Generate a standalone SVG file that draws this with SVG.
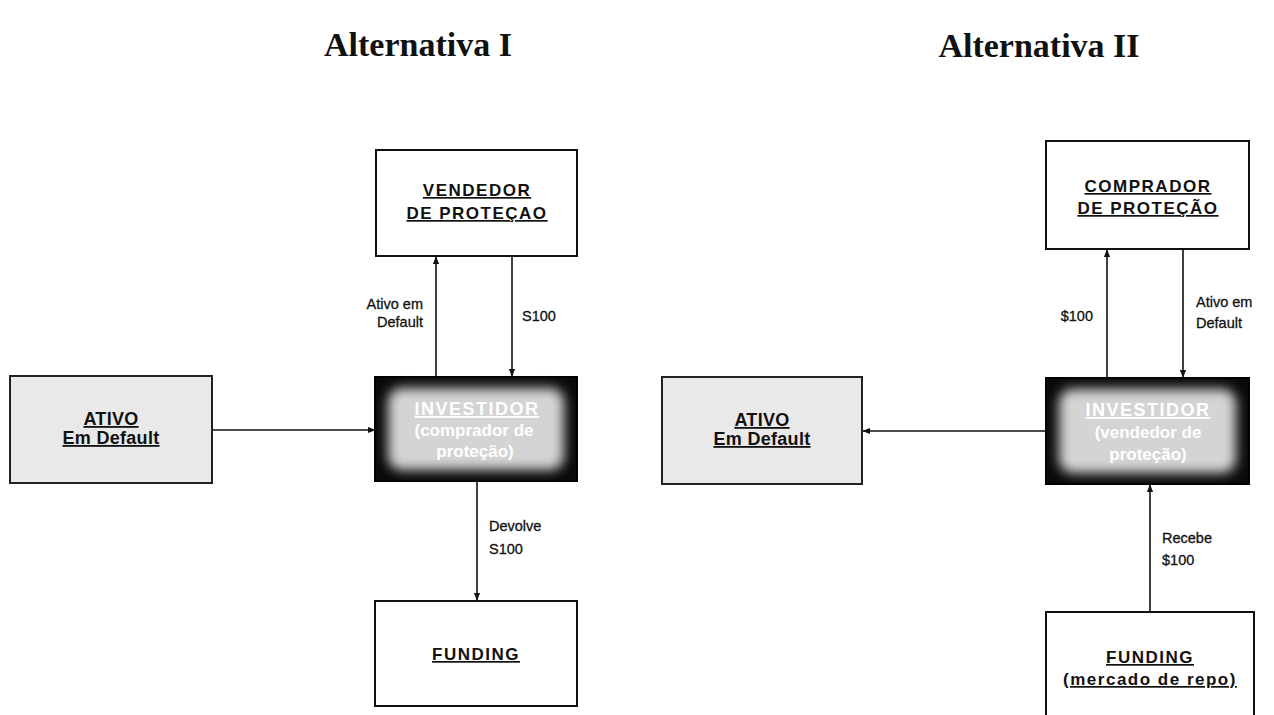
<svg xmlns="http://www.w3.org/2000/svg" width="1274" height="715" viewBox="0 0 1274 715">
<style>
.title{font-family:"Liberation Serif",serif;font-weight:bold;font-size:34px;fill:#111;text-anchor:middle}
.box{fill:#fff;stroke:#111;stroke-width:2}
.gbox{fill:#e9e9e9;stroke:#222;stroke-width:2}
.blk{fill:#0a0a0a;stroke:#000;stroke-width:2}
.lbl{font-family:"Liberation Sans",Arial,sans-serif;font-weight:bold;font-size:17px;letter-spacing:1.5px;fill:#111;text-anchor:middle;text-decoration:underline}
.lbs{font-family:"Liberation Sans",Arial,sans-serif;font-weight:bold;font-size:18px;letter-spacing:0.3px;fill:#111;text-anchor:middle;text-decoration:underline}
.inv{font-family:"Liberation Sans",Arial,sans-serif;font-weight:bold;font-size:17px;fill:#fff;text-anchor:middle}
.invh{font-size:18px;letter-spacing:1.5px;text-decoration:underline}
.edge{font-family:"Liberation Sans",Arial,sans-serif;font-size:14.5px;fill:#111;stroke:#111;stroke-width:0.3}
.ln{stroke:#111;stroke-width:1.6;fill:none}
</style>
<defs>
<filter id="glow" x="-20%" y="-30%" width="140%" height="160%"><feGaussianBlur stdDeviation="6"/></filter>
<marker id="ah" viewBox="0 0 10 10" refX="9" refY="5" markerWidth="5" markerHeight="5" orient="auto"><path d="M0,1 L10,5 L0,9 z" fill="#111"/></marker>
</defs>
<text class="title" x="418" y="56">Alternativa I</text>
<text class="title" x="1039" y="57">Alternativa II</text>

<g id="connectors">
<line class="ln" x1="212" y1="430" x2="375" y2="430" marker-end="url(#ah)"/>
<line class="ln" x1="436" y1="377" x2="436" y2="257" marker-end="url(#ah)"/>
<line class="ln" x1="512" y1="256" x2="512" y2="376" marker-end="url(#ah)"/>
<line class="ln" x1="477" y1="481" x2="477" y2="600" marker-end="url(#ah)"/>
<text class="edge" x="423" y="309" text-anchor="end">Ativo em</text>
<text class="edge" x="423" y="327" text-anchor="end">Default</text>
<text class="edge" x="522" y="321">S100</text>
<text class="edge" x="489" y="531">Devolve</text>
<text class="edge" x="489" y="554">S100</text>

<line class="ln" x1="1046" y1="431" x2="863" y2="431" marker-end="url(#ah)"/>
<line class="ln" x1="1107" y1="378" x2="1107" y2="250" marker-end="url(#ah)"/>
<line class="ln" x1="1183" y1="249" x2="1183" y2="377" marker-end="url(#ah)"/>
<line class="ln" x1="1150" y1="612" x2="1150" y2="485" marker-end="url(#ah)"/>
<text class="edge" x="1093" y="321" text-anchor="end">$100</text>
<text class="edge" x="1196" y="307">Ativo em</text>
<text class="edge" x="1196" y="328">Default</text>
<text class="edge" x="1162" y="543">Recebe</text>
<text class="edge" x="1162" y="565">$100</text>
</g>

<g id="ativo1">
<rect class="gbox" x="10" y="376" width="202" height="107"/>
<text class="lbs" x="111" y="425">ATIVO</text>
<text class="lbs" x="111" y="444">Em Default</text>
</g>
<g id="vendedor">
<rect class="box" x="376" y="150" width="201" height="106"/>
<text class="lbl" x="477" y="196">VENDEDOR</text>
<text class="lbl" x="477" y="219">DE PROTEÇAO</text>
</g>
<g id="investidor1">
<rect class="blk" x="375" y="377" width="202" height="104"/>
<rect x="388" y="388" width="176" height="82" rx="14" fill="#d4d4d4" filter="url(#glow)"/>
<text class="inv invh" x="477" y="415">INVESTIDOR</text>
<text class="inv" x="474" y="436">(comprador de</text>
<text class="inv" x="475" y="457">proteção)</text>
</g>
<g id="funding1">
<rect class="box" x="375" y="601" width="202" height="105"/>
<text class="lbl" x="476" y="660">FUNDING</text>
</g>

<g id="ativo2">
<rect class="gbox" x="662" y="377" width="200" height="107"/>
<text class="lbs" x="762" y="426">ATIVO</text>
<text class="lbs" x="762" y="445">Em Default</text>
</g>
<g id="comprador">
<rect class="box" x="1046" y="141" width="203" height="108"/>
<text class="lbl" x="1148" y="192">COMPRADOR</text>
<text class="lbl" x="1148" y="214">DE PROTEÇÃO</text>
</g>
<g id="investidor2">
<rect class="blk" x="1046" y="378" width="203" height="106"/>
<rect x="1059" y="389" width="177" height="84" rx="14" fill="#d4d4d4" filter="url(#glow)"/>
<text class="inv invh" x="1148" y="416">INVESTIDOR</text>
<text class="inv" x="1148" y="438">(vendedor de</text>
<text class="inv" x="1148" y="460">proteção)</text>
</g>
<g id="funding2">
<path class="box" d="M1046,716 L1046,612 L1254,612 L1254,716"/>
<text class="lbl" x="1150" y="663">FUNDING</text>
<text class="lbl" x="1150" y="685">(mercado de repo)</text>
</g>
</svg>
